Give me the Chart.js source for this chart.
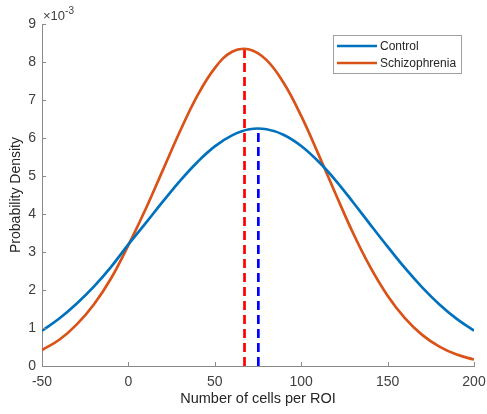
<!DOCTYPE html>
<html>
<head>
<meta charset="utf-8">
<script src="https://cdn.jsdelivr.net/npm/chart.js@4/dist/chart.umd.min.js"></script>
<style>
  html, body { margin: 0; padding: 0; background: #fff; }
  #wrap { width: 487px; height: 414px; }
</style>
</head>
<body>
<div id="wrap"><canvas id="chart" width="487" height="414"></canvas></div>
<script>
// Number of cells per ROI (x positions of the curve samples)
const cellCounts = [-50, -40, -30, -20, -10, 0, 10, 20, 30, 40, 50, 60, 70, 80, 90, 100,
                    110, 120, 130, 140, 150, 160, 170, 180, 190, 200];

// Probability density, in units of 10^-3
const controlDensity = [0.93, 1.25, 1.64, 2.09, 2.61, 3.2, 3.76, 4.33, 4.88, 5.37, 5.78, 6.07, 6.23,
                        6.23, 6.08, 5.79, 5.38, 4.88, 4.31, 3.72, 3.14, 2.58, 2.07, 1.62, 1.24, 0.93];
const schizoDensity = [0.42, 0.69, 1.09, 1.62, 2.31, 3.18, 4.13, 5.16, 6.19, 7.12, 7.84, 8.27, 8.33,
                       8.05, 7.44, 6.58, 5.57, 4.52, 3.5, 2.6, 1.85, 1.26, 0.82, 0.51, 0.3, 0.17];

// Means (dashed lines) and the density at the mean
const controlMean = 75.2;
const controlPeak = 6.26;
const schizoMean = 67.2;
const schizoPeak = 8.37;

const xTicks = [-50, 0, 50, 100, 150, 200];
const yTicks = [0, 1, 2, 3, 4, 5, 6, 7, 8, 9];

const seriesNames = ['Control', 'Schizophrenia'];
const blue = '#0072BD';
const orange = '#D95319';
const axisGray = '#8a8a8a';
const textGray = '#404040';
const fontFamily = '"Liberation Sans", Arial, Helvetica, sans-serif';

function toPoints(xs, ys) {
    return xs.map((x, i) => ({ x: x, y: ys[i] }));
}

// Inward tick marks, the x10^-3 label and the boxed legend, MATLAB style
const matlabDecor = {
    id: 'matlabDecor',
    afterDraw(chart) {
        const ctx = chart.ctx;
        const xs = chart.scales.x;
        const ys = chart.scales.y;
        const area = chart.chartArea;
        ctx.save();
        ctx.strokeStyle = axisGray;
        ctx.lineWidth = 1;
        ctx.beginPath();
        xTicks.forEach(v => {
            const px = Math.round(xs.getPixelForValue(v)) + 0.5;
            ctx.moveTo(px, area.bottom);
            ctx.lineTo(px, area.bottom - 4);
        });
        yTicks.forEach(v => {
            const py = Math.round(ys.getPixelForValue(v)) + 0.5;
            ctx.moveTo(area.left, py);
            ctx.lineTo(area.left + 4, py);
        });
        ctx.stroke();

        // exponent label
        ctx.fillStyle = textGray;
        ctx.textBaseline = 'alphabetic';
        ctx.textAlign = 'left';
        ctx.font = '13px ' + fontFamily;
        ctx.fillText('\u00d710', area.left + 1, area.top - 4);
        const w = ctx.measureText('\u00d710').width;
        ctx.font = '10px ' + fontFamily;
        ctx.fillText('-3', area.left + 1 + w, area.top - 10);

        // legend
        const lx = 333, ly = 35, lw = 128, lh = 38;
        ctx.fillStyle = '#fff';
        ctx.fillRect(lx, ly, lw, lh);
        ctx.strokeStyle = '#a0a0a0';
        ctx.lineWidth = 1;
        ctx.strokeRect(lx + 0.5, ly + 0.5, lw, lh);
        const colors = [blue, orange];
        seriesNames.forEach((name, i) => {
            const y = ly + 11 + i * 17;
            ctx.strokeStyle = colors[i];
            ctx.lineWidth = 2.5;
            ctx.beginPath();
            ctx.moveTo(lx + 4, y);
            ctx.lineTo(lx + 44, y);
            ctx.stroke();
            ctx.fillStyle = '#262626';
            ctx.font = '12px ' + fontFamily;
            ctx.textBaseline = 'middle';
            ctx.fillText(name, lx + 47, y + 1);
        });
        ctx.restore();
    }
};

new Chart(document.querySelector('#chart').getContext('2d'), {
    type: 'scatter',
    data: {
        datasets: [
            {
                label: seriesNames[0],
                data: toPoints(cellCounts, controlDensity),
                showLine: true,
                borderColor: blue,
                borderWidth: 2.7,
                pointRadius: 0,
                tension: 0.4
            },
            {
                label: seriesNames[1],
                data: toPoints(cellCounts, schizoDensity),
                showLine: true,
                borderColor: orange,
                borderWidth: 2.7,
                pointRadius: 0,
                tension: 0.4
            },
            {
                label: 'Schizophrenia mean',
                data: [{ x: schizoMean, y: 0 }, { x: schizoMean, y: schizoPeak }],
                showLine: true,
                borderColor: '#ff0000',
                borderWidth: 2.7,
                borderDash: [9, 5],
                pointRadius: 0
            },
            {
                label: 'Control mean',
                data: [{ x: controlMean, y: 0 }, { x: controlMean, y: controlPeak }],
                showLine: true,
                borderColor: '#0000ff',
                borderWidth: 2.7,
                borderDash: [9, 5],
                pointRadius: 0
            }
        ]
    },
    options: {
        responsive: false,
        animation: false,
        layout: { padding: { top: 24, right: 13, left: 0, bottom: 0 } },
        plugins: {
            legend: { display: false },
            tooltip: { enabled: false }
        },
        scales: {
            x: {
                type: 'linear',
                min: -50,
                max: 200,
                afterFit: s => { s.height = 48; s.paddingLeft = 0; s.paddingRight = 0; },
                afterBuildTicks: s => { s.ticks = xTicks.map(v => ({ value: v })); },
                grid: { display: false, drawTicks: false },
                border: { display: true, color: axisGray, width: 1 },
                ticks: { color: textGray, padding: 8, font: { size: 14, family: fontFamily } },
                title: {
                    display: true,
                    text: 'Number of cells per ROI',
                    color: '#262626',
                    padding: { top: 0, bottom: 6 },
                    font: { size: 14.5, family: fontFamily }
                }
            },
            y: {
                type: 'linear',
                min: 0,
                max: 9,
                afterFit: s => { s.width = 42; s.paddingTop = 0; s.paddingBottom = 0; },
                afterBuildTicks: s => { s.ticks = yTicks.map(v => ({ value: v })); },
                grid: { display: false, drawTicks: false },
                border: { display: true, color: axisGray, width: 1 },
                ticks: { color: textGray, padding: 6, font: { size: 14, family: fontFamily } },
                title: {
                    display: true,
                    text: 'Probability Density',
                    color: '#262626',
                    padding: { top: 8, bottom: 0 },
                    font: { size: 14, family: fontFamily }
                }
            }
        }
    },
    plugins: [matlabDecor]
});
</script>
</body>
</html>
